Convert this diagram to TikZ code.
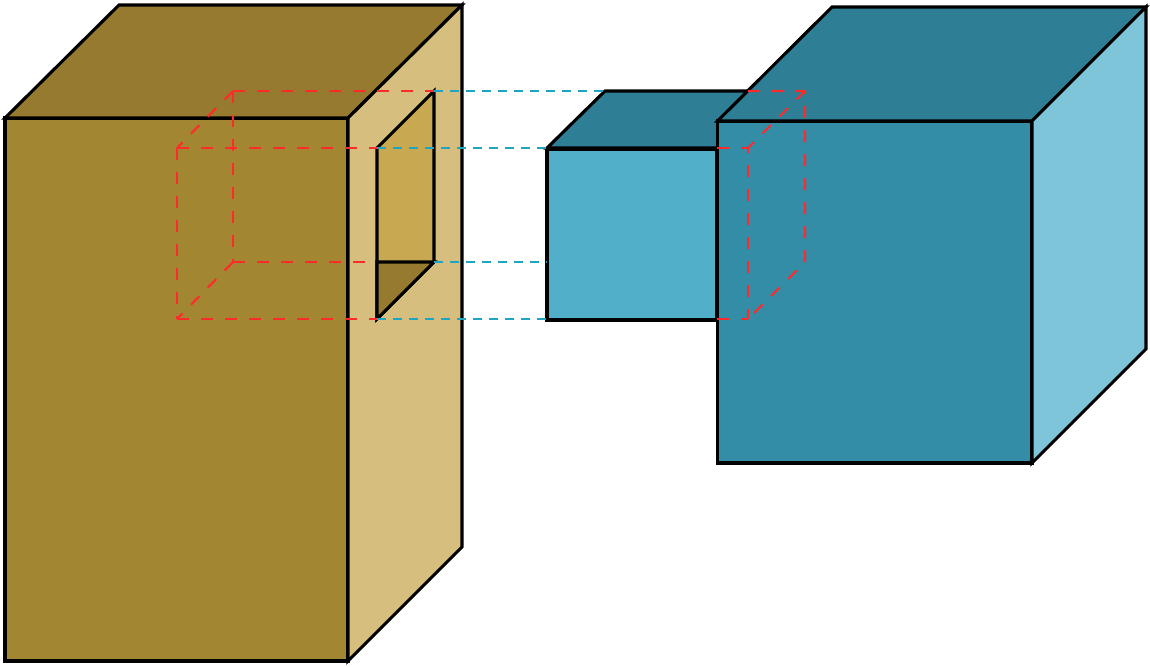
\documentclass[tikz,border=0pt]{standalone}
\definecolor{brownfront}{HTML}{A38632}
\definecolor{browntop}{HTML}{957A30}
\definecolor{brownside}{HTML}{D6BE7E}
\definecolor{brownhole}{HTML}{C8A850}
\definecolor{tealfront}{HTML}{348DA6}
\definecolor{tealtop}{HTML}{2E7F96}
\definecolor{tealside}{HTML}{7FC5D9}
\definecolor{tealsmall}{HTML}{52AFC9}
\definecolor{reddash}{HTML}{FF2A2A}
\definecolor{bluedash}{HTML}{1FA5C4}
\tikzset{
    face/.style={draw=black, line width=3.1pt, line join=miter},
    redline/.style={draw=reddash, line width=2.1pt, dash pattern=on 12pt off 12pt},
    blueline/.style={draw=bluedash, line width=2.1pt, dash pattern=on 9pt off 7pt},
}
\begin{document}
\begin{tikzpicture}[x=1pt, y=-1pt]
        \useasboundingbox (0,0) rectangle (1150,666);
        % left block
        \draw[face, fill=brownfront] (5,118) -- (348,118) -- (348,661) -- (5,661) -- cycle;
        \draw[face, fill=browntop] (5,118) -- (119,5) -- (462,5) -- (348,118) -- cycle;
        \draw[face, fill=brownside] (348,118) -- (462,5) -- (462,547) -- (348,661) -- cycle;
        % hole in the side
        \draw[face, fill=brownhole] (377,148) -- (434,91) -- (434,262) -- (377,319) -- cycle;
        \draw[face, fill=browntop] (377,262) -- (434,262) -- (377,319) -- cycle;
        % small block
        \draw[face, fill=tealtop] (547,148) -- (605,91) -- (775,91) -- (717,148) -- cycle;
        \draw[face, fill=tealsmall] (547,149.5) -- (717,149.5) -- (717,320) -- (547,320) -- cycle;
        % big block
        \draw[face, fill=tealfront] (717.5,121) -- (1032,121) -- (1032,463) -- (717.5,463) -- cycle;
        \draw[face, fill=tealtop] (717.5,121) -- (832,7) -- (1146,7) -- (1032,121) -- cycle;
        \draw[face, fill=tealside] (1032,121) -- (1146,7) -- (1146,349) -- (1032,463) -- cycle;
        % projection lines
        \draw[blueline] (434,91) -- (605,91);
        \draw[blueline] (377,148) -- (547,148);
        \draw[blueline] (434,262) -- (547,262);
        \draw[blueline] (377,319) -- (547,319);
        % dashed cube, left part
        \draw[redline] (233,91) -- (434,91);
        \draw[redline] (177,148) -- (377,148);
        \draw[redline] (233,262) -- (377,262);
        \draw[redline] (177,319) -- (377,319);
        \draw[redline] (177,148) -- (177,319);
        \draw[redline] (233,91) -- (233,262);
        \draw[redline] (233,91) -- (177,148);
        \draw[redline] (233,262) -- (177,319);
        % dashed cube, right part
        \draw[redline] (748,91) -- (805,91) -- (805,262) -- (748,319);
        \draw[redline] (717,148) -- (748,148) -- (748,319);
        \draw[redline] (717,319) -- (748,319);
        \draw[redline] (805,91) -- (748,148);
    \end{tikzpicture}
\end{document}
